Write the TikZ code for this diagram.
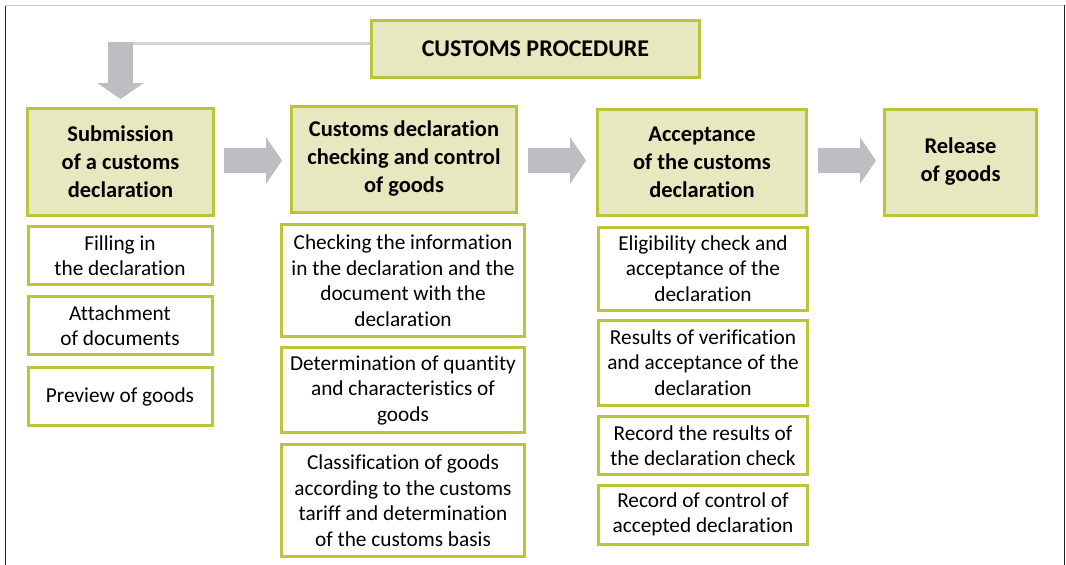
\documentclass[tikz,border=0pt]{standalone}
\usepackage{fontspec}
\setmainfont{Carlito}[Ligatures=CommonOff]
\usetikzlibrary{arrows.meta,calc}
\definecolor{boxfill}{HTML}{E6E8BF}
\definecolor{boxline}{HTML}{BCC43A}
\definecolor{arrowgray}{HTML}{BDBEC2}
\definecolor{bargray}{HTML}{D2D3D6}
\begin{document}
\begin{tikzpicture}[x=1pt,y=-1pt,
  mainbox/.style={draw=boxline, line width=3pt, fill=boxfill, align=center,
    font=\fontsize{22.5}{28}\selectfont\bfseries, inner sep=0pt},
  subbox/.style={draw=boxline, line width=3pt, fill=white, align=center,
    font=\fontsize{21.3}{25.5}\selectfont, inner sep=0pt},
  blockarrow/.style={draw=arrowgray, line width=25pt,
    -{Triangle[width=46pt,length=16pt]}, arrowgray}
]
\useasboundingbox (0,0) rectangle (1066,565);
% frame
\draw[line width=0.8pt, black!85] (5,565) -- (5,5);
\draw[line width=0.8pt, black!20] (5,5) -- (1064,5);
\draw[line width=0.8pt, black!85] (1064,5) -- (1064,565);

% title
\node[mainbox, minimum width=328pt, minimum height=57pt,
  font=\fontsize{24}{28}\selectfont\bfseries] (proc) at (535.5,48.5) {CUSTOMS PROCEDURE};

% main boxes
\node[mainbox, minimum width=186pt, minimum height=107pt] (sub) at (120.5,162) {Submission\\of a customs\\declaration};
\node[mainbox, minimum width=225pt, minimum height=106pt] (chk) at (404,159) {Customs declaration\\checking and control\\of goods};
\node[mainbox, minimum width=209pt, minimum height=106pt] (acc) at (702,162) {Acceptance\\of the customs\\declaration};
\node[mainbox, minimum width=152pt, minimum height=106pt] (rel) at (960.5,162) {Release\\of goods};

% sub boxes column 1
\node[subbox, minimum width=184pt, minimum height=58pt] (f1) at (120,255.5) {Filling in\\the declaration};
\node[subbox, minimum width=184pt, minimum height=58pt] (f2) at (120,325.5) {Attachment\\of documents};
\node[subbox, minimum width=184pt, minimum height=58pt] (f3) at (120,396.5) {Preview of goods};

% sub boxes column 2
\node[subbox, minimum width=243pt, minimum height=112pt] (c1) at (403,280.5) {Checking the information\\in the declaration and the\\document with the\\declaration};
\node[subbox, minimum width=243pt, minimum height=85pt] (c2) at (403,390) {Determination of quantity\\and characteristics of\\goods};
\node[subbox, minimum width=243pt, minimum height=112pt] (c3) at (403,500.5) {Classification of goods\\according to the customs\\tariff and determination\\of the customs basis};

% sub boxes column 3
\node[subbox, minimum width=209pt, minimum height=83pt] (a1) at (703,268.5) {Eligibility check and\\acceptance of the\\declaration};
\node[subbox, minimum width=209pt, minimum height=85pt] (a2) at (703,362.5) {Results of verification\\and acceptance of the\\declaration};
\node[subbox, minimum width=209pt, minimum height=58pt] (a3) at (703,445.5) {Record the results of\\the declaration check};
\node[subbox, minimum width=209pt, minimum height=59pt] (a4) at (703,514.5) {Record of control of\\accepted declaration};

% connector from title to first box
\coordinate (bend) at (120.5,43.5);
\draw[bargray, line width=3pt] ([yshift=5pt]proc.west) -- (bend);
\draw[blockarrow] (120.5,42) -- ([yshift=8pt]sub.north);

% block arrows between main boxes
\draw[blockarrow] ([xshift=9pt,yshift=1.5pt]sub.east) -- ([xshift=-8pt,yshift=1.5pt]chk.west |- sub.east);
\draw[blockarrow] ([xshift=10pt,yshift=1.5pt]chk.east |- acc.east) -- ([xshift=-10pt,yshift=1.5pt]acc.west);
\draw[blockarrow] ([xshift=10pt,yshift=1.5pt]acc.east) -- ([xshift=-7pt,yshift=1.5pt]rel.west);
\end{tikzpicture}
\end{document}
